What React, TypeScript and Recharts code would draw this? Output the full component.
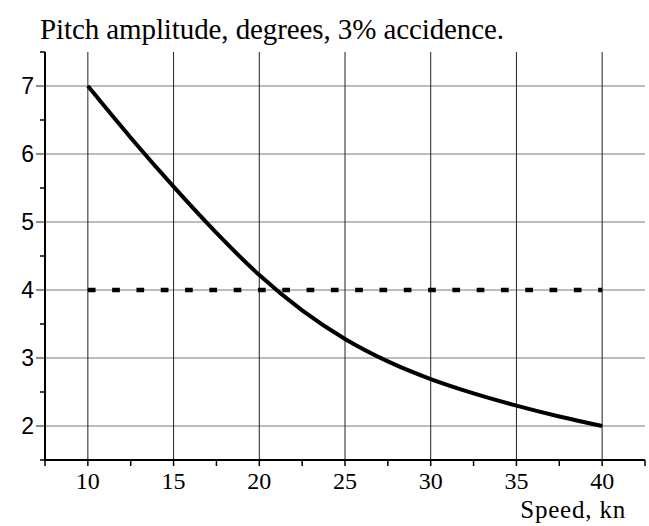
import React from "react";
import { LineChart, Line, XAxis, YAxis, ReferenceLine } from "recharts";

// speed, kn
const speeds = [10, 12.5, 15, 17.5, 20, 22.5, 25, 27.5, 30, 32.5, 35, 37.5, 40];
// pitch amplitude, degrees
const amplitude = [7.0, 6.24, 5.52, 4.84, 4.22, 3.7, 3.28, 2.95, 2.69, 2.48, 2.3, 2.14, 2.0];
const limitValue = 4;

const xTicks = [7.5, 10, 12.5, 15, 17.5, 20, 22.5, 25, 27.5, 30, 32.5, 35, 37.5, 40, 42.5];
const xLabels = [10, 15, 20, 25, 30, 35, 40];
const yTicks = [1.5, 2, 2.5, 3, 3.5, 4, 4.5, 5, 5.5, 6, 6.5, 7, 7.5];
const yLabels = [2, 3, 4, 5, 6, 7];

const data = speeds.map((s, i) => ({ speed: s, amplitude: amplitude[i], limit: limitValue }));

const serif = "Liberation Serif";
const sans = "Liberation Sans";

const XTick = (props: any) => {
  const { x, y, payload } = props;
  const major = xLabels.includes(payload.value);
  return (
    <g>
      <line x1={x} x2={x} y1={y} y2={y + 6} stroke="#000" strokeWidth={1.5} />
      {major && (
        <text x={x} y={y + 29} textAnchor="middle" fontFamily={serif} fontSize={24} fill="#000">
          {payload.value}
        </text>
      )}
    </g>
  );
};

const YTick = (props: any) => {
  const { x, y, payload } = props;
  const major = yLabels.includes(payload.value);
  return (
    <g>
      <line x1={x - (major ? 9 : 5)} x2={x} y1={y} y2={y} stroke={major ? "#444" : "#000"} strokeWidth={major ? 1.2 : 1.5} />
      {major && (
        <text x={x - 11} y={y + 8} textAnchor="end" fontFamily={sans} fontSize={23} fill="#000">
          {payload.value}
        </text>
      )}
    </g>
  );
};

export default function App() {
  return (
    <div style={{ position: "absolute", left: 0, top: 0, width: 649, height: 526, background: "#fff" }}>
      <LineChart width={649} height={526} data={data} margin={{ top: 52, right: 4, left: 0, bottom: 0 }}>
        <text x={40} y={39} fontFamily={serif} fontSize={29} letterSpacing={-0.1} fill="#000">
          Pitch amplitude, degrees, 3% accidence.
        </text>
        <text x={626} y={518} textAnchor="end" fontFamily={serif} fontSize={25} letterSpacing={0.8} fill="#000">
          Speed, kn
        </text>
        <XAxis
          type="number"
          dataKey="speed"
          domain={[7.5, 42.5]}
          ticks={xTicks}
          interval={0}
          height={66}
          tickSize={0}
          tickMargin={0}
          tick={<XTick />}
          axisLine={{ stroke: "#000", strokeWidth: 2 }}
          allowDataOverflow
        />
        <YAxis
          type="number"
          domain={[1.5, 7.5]}
          ticks={yTicks}
          interval={0}
          width={45}
          tickSize={0}
          tickMargin={0}
          tick={<YTick />}
          axisLine={{ stroke: "#000", strokeWidth: 2 }}
          allowDataOverflow
        />
        {yLabels.map((v) => (
          <ReferenceLine key={"h" + v} y={v} stroke="#7a7a7a" strokeWidth={1.2} />
        ))}
        {xLabels.map((v) => (
          <ReferenceLine key={"v" + v} x={v} stroke="#222" strokeWidth={1} />
        ))}
        <Line
          type="linear"
          dataKey="limit"
          stroke="#000"
          strokeWidth={4.5}
          strokeDasharray="7.7 16.6"
          dot={false}
          isAnimationActive={false}
        />
        <Line
          type="monotone"
          dataKey="amplitude"
          stroke="#000"
          strokeWidth={4}
          dot={false}
          isAnimationActive={false}
        />
      </LineChart>
    </div>
  );
}
